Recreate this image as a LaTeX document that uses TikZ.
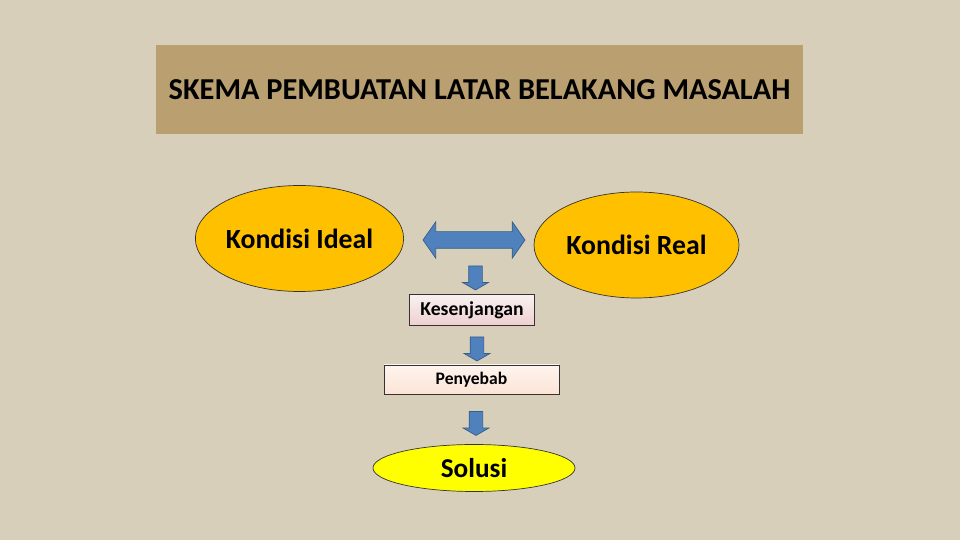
\documentclass[tikz,border=0pt]{standalone}
\usepackage{fontspec}
\setmainfont{Carlito}
\usetikzlibrary{shapes.geometric, shapes.arrows}
\definecolor{linen}{RGB}{216,207,186}
\definecolor{burlap}{RGB}{186,160,112}
\definecolor{amber}{RGB}{255,192,0}
\definecolor{lemon}{RGB}{255,255,0}
\definecolor{steel}{RGB}{79,129,189}
\definecolor{steeldark}{RGB}{56,93,138}
\definecolor{rose}{RGB}{238,208,208}
\definecolor{peach}{RGB}{252,228,214}
\tikzstyle{kondisi}=[ellipse, draw=black!80, thin, fill=amber, inner sep=0, minimum width=4.1cm, minimum height=2.12cm, font=\bfseries\fontsize{15.8}{18}\selectfont]
\tikzstyle{kotak}=[rectangle, draw=black!80, thin, inner sep=0]
\tikzstyle{turun}=[single arrow, draw=steeldark, fill=steel, shape border rotate=270, inner sep=0.13cm, minimum height=0.48cm, single arrow head extend=0.12cm, single arrow tip angle=120]

\begin{document}
\begin{tikzpicture}
\fill[linen] (0,0) rectangle (19.2,10.8);
\useasboundingbox (0,0) rectangle (19.2,10.8);
\draw (9.59,9.01) node[rectangle, fill=burlap, minimum width=12.94cm, minimum height=1.78cm, font=\bfseries\fontsize{17.3}{20}\selectfont] (judul) {SKEMA PEMBUATAN LATAR BELAKANG MASALAH};

\draw (5.99,6.03) node[kondisi] (ideal) {Kondisi Ideal};
\draw (12.73,5.9) node[kondisi] (real) {Kondisi Real};
\draw (9.48,6.0) node[double arrow, draw=steeldark, fill=steel, inner sep=0.16cm, minimum height=2.04cm, double arrow head extend=0.2cm, double arrow tip angle=110] (banding) {};

\draw (9.51,5.28) node[turun] (panah1) {};
\draw (9.44,4.6) node[kotak, top color=white!70!rose, bottom color=rose, minimum width=2.5cm, minimum height=0.62cm, font=\bfseries\fontsize{11.2}{13}\selectfont] (gap) {Kesenjangan};
\draw (9.54,3.86) node[turun] (panah2) {};
\draw (9.43,3.21) node[kotak, top color=white!60!peach, bottom color=peach, minimum width=3.5cm, minimum height=0.58cm, font=\bfseries\fontsize{10}{12}\selectfont] (sebab) {Penyebab};
\draw (9.52,2.37) node[turun] (panah3) {};
\draw (9.48,1.44) node[ellipse, draw=black!80, thin, fill=lemon, minimum width=4.04cm, minimum height=0.94cm, font=\bfseries\fontsize{15.5}{18}\selectfont] (solusi) {Solusi};
\end{tikzpicture}
\end{document}
